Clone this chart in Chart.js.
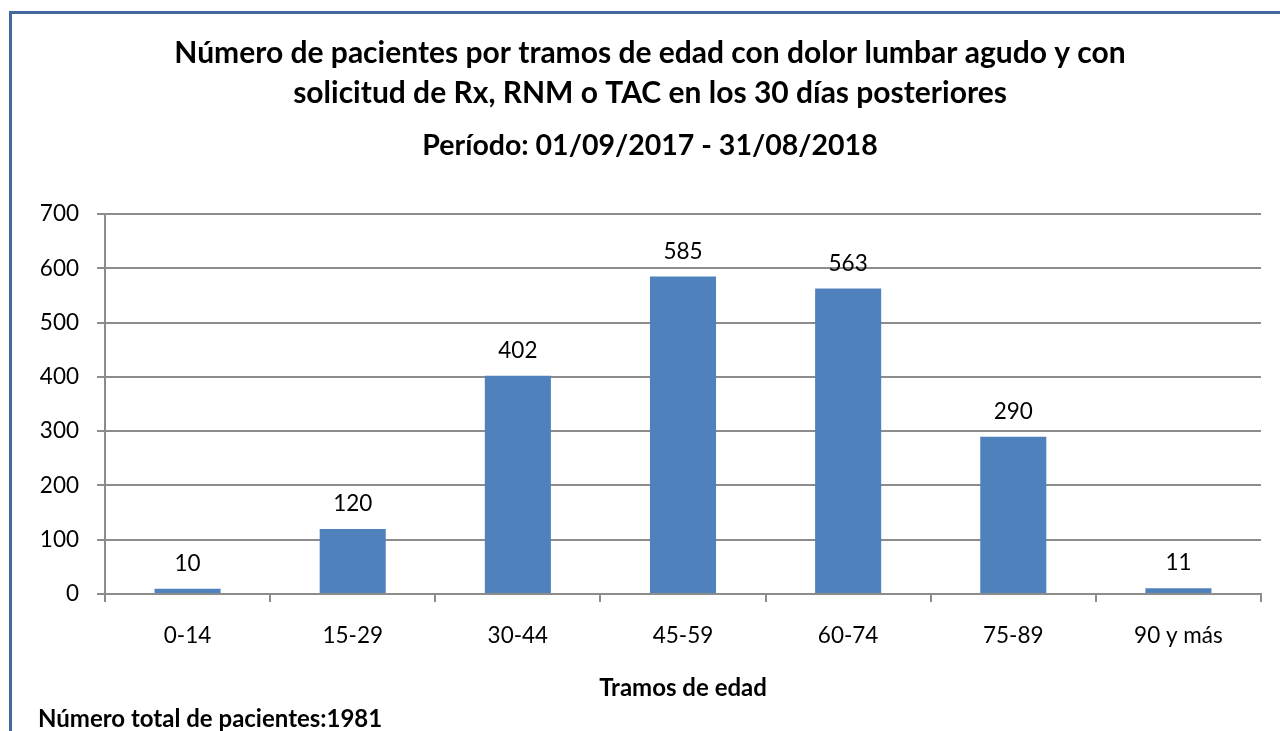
<!DOCTYPE html>
<html><head><meta charset="utf-8">
<script src="https://cdn.jsdelivr.net/npm/chart.js@4"></script>
<style>
html,body{margin:0;padding:0;background:#fff;overflow:hidden;width:1280px;height:731px;}
#frame{position:absolute;left:9px;top:11px;width:1300px;height:800px;border:3px solid #44689c;box-sizing:border-box;}
#wrap{position:absolute;left:0;top:0;width:1280px;height:731px;}
</style></head>
<body>
<div id="frame"></div>
<div id="wrap"><canvas id="c" width="1280" height="731"></canvas></div>
<script>
const categories = ['0-14','15-29','30-44','45-59','60-74','75-89','90 y más'];
const pacientes = [10,120,402,585,563,290,11];
const yTicks = [0,100,200,300,400,500,600,700];
const titleLines = ['Número de pacientes por tramos de edad con dolor lumbar agudo y con','solicitud de Rx, RNM o TAC en los 30 días posteriores'];
const subtitleText = 'Período: 01/09/2017 - 31/08/2018';
const xTitle = 'Tramos de edad';
const footnote = 'Número total de pacientes:1981';

const FONT = 'Lato, "Open Sans", sans-serif';

const labelsPlugin = {
  id:'vals',
  afterDatasetsDraw(chart){
    const ctx = chart.ctx;
    const meta = chart.getDatasetMeta(0);
    ctx.save();
    ctx.font = '22.5px ' + FONT;
    ctx.fillStyle = '#000';
    ctx.textAlign = 'center';
    ctx.textBaseline = 'middle';
    meta.data.forEach((bar,i)=>{
      ctx.fillText(String(pacientes[i]), bar.x, bar.y - 25);
    });
    ctx.restore();
  }
};
const footPlugin = {
  id:'foot',
  afterDraw(chart){
    const ctx = chart.ctx;
    ctx.save();
    ctx.font = 'bold 24px ' + FONT;
    ctx.fillStyle = '#000';
    ctx.textAlign = 'left';
    ctx.textBaseline = 'middle';
    ctx.fillText(footnote, 38, 719);
    ctx.restore();
  }
};

new Chart(document.getElementById('c'), {
  type:'bar',
  data:{labels:categories, datasets:[{data:pacientes, backgroundColor:'#4f81bd', categoryPercentage:0.4, barPercentage:1.0}]},
  plugins:[labelsPlugin, footPlugin],
  options:{
    responsive:false, animation:false,
    layout:{padding:{left:39, right:19, top:33, bottom:28}},
    plugins:{
      legend:{display:false}, tooltip:{enabled:false},
      title:{display:true, text:titleLines, color:'#000', font:{family:FONT, size:30, weight:'bold', lineHeight:1.3333}, padding:{top:0,bottom:12.5}},
      subtitle:{display:true, text:subtitleText, color:'#000', font:{family:FONT, size:28.5, weight:'bold', lineHeight:1.4035}, padding:{top:0,bottom:48.5}}
    },
    scales:{
      x:{
        grid:{display:true, drawOnChartArea:false, color:'#8c8c8c', lineWidth:2, tickLength:8, offset:true},
        border:{color:'#8c8c8c', width:2},
        ticks:{color:'#000', font:{family:FONT, size:22.5}, padding:20.5},
        title:{display:true, text:xTitle, color:'#000', font:{family:FONT, size:24, weight:'bold'}, padding:{top:4.1,bottom:0}}
      },
      y:{
        min:0, max:700,
        afterFit(s){ s.width = 66; },
        afterBuildTicks(s){ s.ticks = yTicks.map(v=>({value:v})); },
        grid:{color:'#8c8c8c', lineWidth:2, tickLength:8},
        border:{color:'#8c8c8c', width:2},
        ticks:{color:'#000', font:{family:FONT, size:22.5}, padding:18}
      }
    }
  }
});
</script>
</body></html>
